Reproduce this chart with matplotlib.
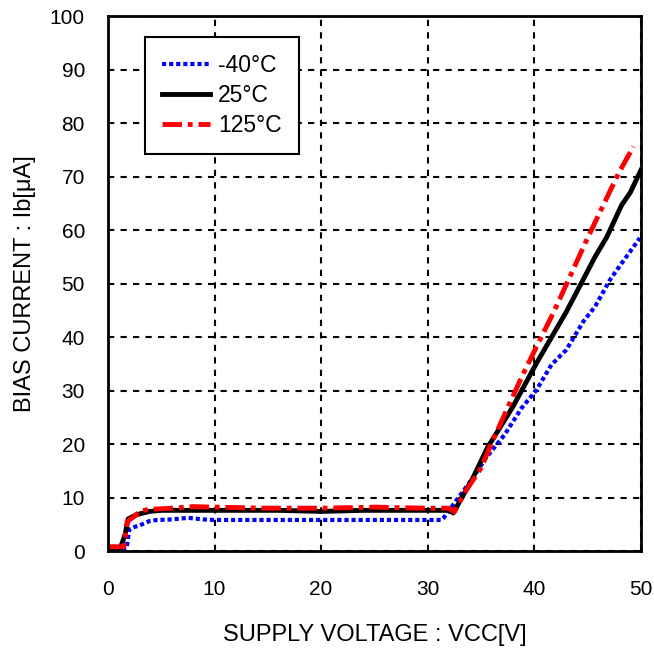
import matplotlib
matplotlib.use("Agg")
import matplotlib.pyplot as plt

plt.rcParams["font.family"] = ["Liberation Sans", "DejaVu Sans"]

# -40C
v_cold = [0, 1.5, 1.75, 2.0, 2.5, 3.0, 3.9, 4.6, 6.0, 7.5, 9.0, 10, 15, 20, 25, 30, 31.3, 31.5,
          32.7, 34, 35.5, 37.2, 38.8, 40.2, 41.6, 43.0, 44.6, 45.7, 47.1, 48.2, 49.9]
i_cold = [0.3, 0.3, 0.5, 4.0, 4.5, 4.8, 5.6, 5.8, 5.9, 6.2, 5.9, 5.8, 5.8, 5.8, 5.8, 5.8, 5.8, 6.2,
          9.5, 13.0, 17.5, 21.7, 26.7, 30.1, 34.8, 37.6, 42.9, 45.7, 50.7, 53.8, 58.5]

# 25C
v_room = [0, 1.1, 1.6, 1.9, 2.7, 3.9, 5, 8, 12, 16, 20, 24, 28, 32.0, 32.4, 33.2, 34.2,
          35.6, 38.0, 40.2, 43.0, 45.7, 46.8, 48.2, 49.0, 50]
i_room = [0.3, 0.2, 3.0, 6.0, 6.8, 7.4, 7.6, 7.6, 7.6, 7.6, 7.4, 7.6, 7.6, 7.6, 7.1, 10.0, 13.5,
          19.3, 27.0, 35.1, 44.7, 55.0, 58.7, 64.7, 67.0, 71.2]

# 125C
v_hot = [0, 1.5, 1.8, 2.5, 3.0, 4.0, 6, 8, 10, 15, 20, 25, 30, 32.0, 32.5, 33.5, 35.0,
         36.0, 38.9, 41.9, 44.9, 47.9, 49.3]
i_hot = [0.8, 0.8, 5.5, 6.5, 7.5, 7.8, 8.0, 8.3, 8.2, 8.0, 8.0, 8.2, 8.0, 8.0, 7.3, 11.0, 15.5,
         20.2, 32.9, 45.0, 58.1, 70.6, 75.6]

fig = plt.figure(figsize=(6.54, 6.51), dpi=100)
ax = fig.add_axes([0.165, 0.1536, 0.815, 0.8218])

ax.plot(v_cold, i_cold, color="#0000ff", lw=3, ls=(0, (1, 0.7)), label="-40°C")
ax.plot(v_room, i_room, color="black", lw=3.5, label="25°C")
ax.plot(v_hot, i_hot, color="#ff0000", lw=3.5, ls=(0, (4, 1.2, 1, 1.2)), label="125°C")

ax.set_xlim(0, 50)
ax.set_ylim(0, 100)
ax.set_xticks(range(0, 51, 10))
ax.set_yticks(range(0, 101, 10))
ax.grid(True, color="black", ls=(0, (3, 3)), lw=1.5)
ax.tick_params(labelsize=15, length=0)
ax.tick_params(axis="x", pad=21)
ax.tick_params(axis="y", pad=16.5)
for s in ax.spines.values():
    s.set_linewidth(2)

ax.set_xlabel("SUPPLY VOLTAGE : VCC[V]", fontsize=17, labelpad=18)
ax.set_ylabel("BIAS CURRENT : Ib[\u03bcA]", fontsize=17, labelpad=10)

leg = ax.legend(loc="upper left", bbox_to_anchor=(0.069, 0.961), fontsize=16.5,
                frameon=True, fancybox=False, handlelength=2.1, handletextpad=0.35,
                labelspacing=0.3, borderpad=0.75, borderaxespad=0)
leg.get_frame().set_edgecolor("black")
leg.get_frame().set_linewidth(1.5)
leg.get_frame().set_alpha(1)

fig.savefig("out.png", dpi=100)
